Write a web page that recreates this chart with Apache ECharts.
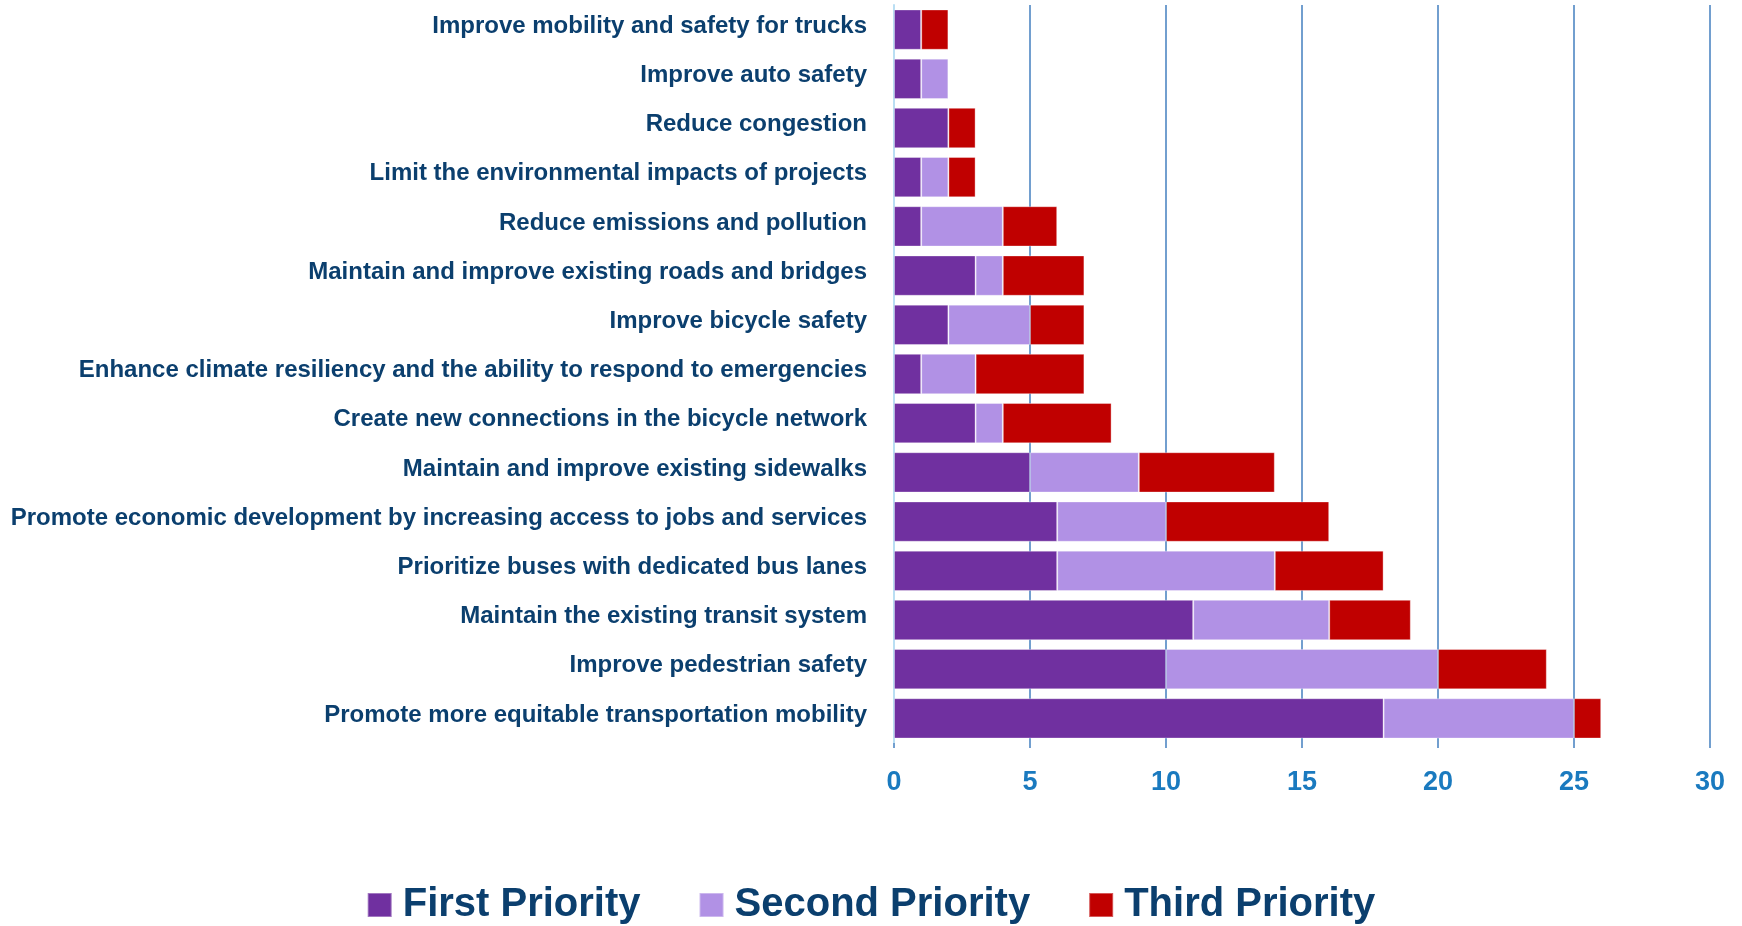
<!DOCTYPE html>
<html>
<head>
<meta charset="utf-8">
<script src="https://cdn.jsdelivr.net/npm/echarts@6/dist/echarts.min.js"></script>
<style>
html,body{margin:0;padding:0;background:#fff;}
#chart{width:1742px;height:926px;}
</style>
</head>
<body>
<div id="chart"></div>
<script>
const categories = [
  "Improve mobility and safety for trucks",
  "Improve auto safety",
  "Reduce congestion",
  "Limit the environmental impacts of projects",
  "Reduce emissions and pollution",
  "Maintain and improve existing roads and bridges",
  "Improve bicycle safety",
  "Enhance climate resiliency and the ability to respond to emergencies",
  "Create new connections in the bicycle network",
  "Maintain and improve existing sidewalks",
  "Promote economic development by increasing access to jobs and services",
  "Prioritize buses with dedicated bus lanes",
  "Maintain the existing transit system",
  "Improve pedestrian safety",
  "Promote more equitable transportation mobility"
];
const firstPriority  = [1, 1, 2, 1, 1, 3, 2, 1, 3, 5, 6, 6, 11, 10, 18];
const secondPriority = [0, 1, 0, 1, 3, 1, 3, 2, 1, 4, 4, 8, 5, 10, 7];
const thirdPriority  = [1, 0, 1, 1, 2, 3, 2, 4, 4, 5, 6, 4, 3, 4, 1];
const seriesNames = ["First Priority", "Second Priority", "Third Priority"];

const FONT = "'Liberation Sans Narrow','Arial Narrow','Liberation Sans',sans-serif";
const chart = echarts.init(document.getElementById('chart'), null, {renderer: 'canvas'});
const colors = ['#7030A0', '#B191E5', '#C00000'];
const data = [firstPriority, secondPriority, thirdPriority];

chart.setOption({
  animation: false,
  backgroundColor: '#ffffff',
  grid: {left: 894, right: 32, top: 5, bottom: 183, containLabel: false, outerBoundsMode: 'none'},
  xAxis: {
    type: 'value', min: 0, max: 30, interval: 5,
    axisLine: {show: false},
    axisTick: {show: true, length: 5, lineStyle: {color: '#729fcf', width: 2}},
    splitLine: {show: true, lineStyle: {color: '#729fcf', width: 2}},
    axisLabel: {margin: 26, color: '#1a7abf', fontFamily: FONT, fontWeight: 'bold', fontSize: 27}
  },
  yAxis: {
    type: 'category', data: categories, inverse: true,
    axisLine: {show: true, lineStyle: {color: '#b9def3', width: 2}},
    axisTick: {show: false},
    axisLabel: {margin: 27, color: '#0b3f6e', fontFamily: FONT, fontWeight: 'bold', fontSize: 24,
                verticalAlign: 'bottom', lineHeight: 7}
  },
  legend: {
    left: 'center', top: 880,
    itemWidth: 24, itemHeight: 24, itemGap: 58,
    icon: 'rect',
    textStyle: {color: '#0b3f6e', fontFamily: FONT, fontWeight: 'bold', fontSize: 40, padding: [0,0,0,6]},
    data: seriesNames
  },
  series: seriesNames.map((n, i) => ({
    name: n, type: 'bar', stack: 'total',
    barCategoryGap: '18%',
    itemStyle: {color: colors[i], borderColor: 'rgba(255,255,255,0.35)', borderWidth: 1},
    data: data[i]
  }))
});
</script>
</body>
</html>
